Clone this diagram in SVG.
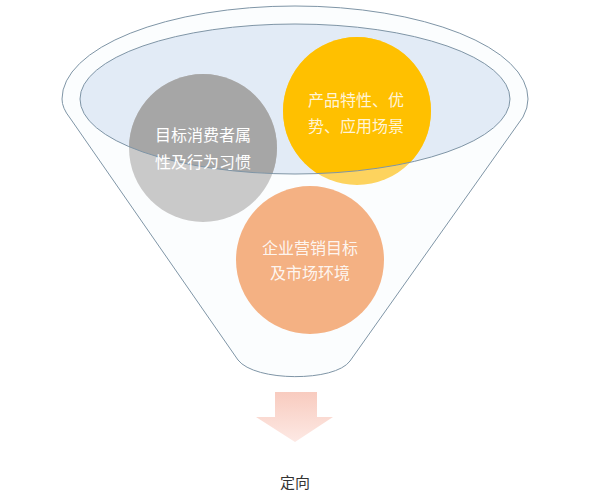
<svg xmlns="http://www.w3.org/2000/svg" width="600" height="492" viewBox="0 0 600 492">
  <style>
    .outline { fill: none; stroke: #7f95a6; stroke-width: 1; }
    .label { font-family: "Noto Sans CJK SC", "Noto Sans", sans-serif; font-size: 16px; text-anchor: middle; fill: #ffffff; }
    .caption { font-family: "Noto Sans CJK SC", "Noto Sans", sans-serif; font-size: 15px; text-anchor: middle; fill: #333333; }
  </style>
  <defs>
    <clipPath id="rim">
      <ellipse cx="295" cy="99" rx="215" ry="75"/>
    </clipPath>
    <linearGradient id="arrowGrad" x1="0" y1="0" x2="0" y2="1">
      <stop offset="0" stop-color="#f8cbbf"/>
      <stop offset="1" stop-color="#fde9e4"/>
    </linearGradient>
  </defs>
  <rect width="600" height="492" fill="#ffffff"/>

  <g id="funnel">
    <path d="M62,99 A233,93 0 0 1 528,99 Q528,108 523,117 L350,361 C335,382 255,382 238,360 L70,118 Q62,108 62,99 Z" fill="#fbfdfe" stroke="#7f95a6" stroke-width="1"/>
    <ellipse cx="295" cy="99" rx="215" ry="75" fill="#e2ebf6"/>
  </g>

  <g id="node-consumer">
    <circle cx="203" cy="148" r="74" fill="#c9c9c9"/>
    <circle cx="203" cy="148" r="74" fill="#a6a6a6" clip-path="url(#rim)"/>
  </g>
  <g id="node-product">
    <circle cx="357" cy="111" r="74" fill="#fdd35e"/>
    <circle cx="357" cy="111" r="74" fill="#ffc000" clip-path="url(#rim)"/>
  </g>
  <g id="node-market">
    <circle cx="310" cy="260" r="74" fill="#f4b183"/>
  </g>

  <g id="rim-outline">
    <ellipse class="outline" cx="295" cy="99" rx="215" ry="75" stroke="#6a87a3"/>
  </g>

  <g id="labels">
    <text class="label" x="203" y="141">目标消费者属</text>
    <text class="label" x="203" y="168">性及行为习惯</text>
    <text class="label" x="356" y="106" fill-opacity="0.85">产品特性、优</text>
    <text class="label" x="356" y="132" fill-opacity="0.85">势、应用场景</text>
    <text class="label" x="310" y="254" fill-opacity="0.9">企业营销目标</text>
    <text class="label" x="310" y="279" fill-opacity="0.9">及市场环境</text>
  </g>

  <g id="connectors">
    <path d="M275,392 L317,392 L317,417 L333,417 L295,442 L256,417 L275,417 Z" fill="url(#arrowGrad)"/>
  </g>

  <g id="node-target">
    <text class="caption" x="295" y="488">定向</text>
  </g>
</svg>
